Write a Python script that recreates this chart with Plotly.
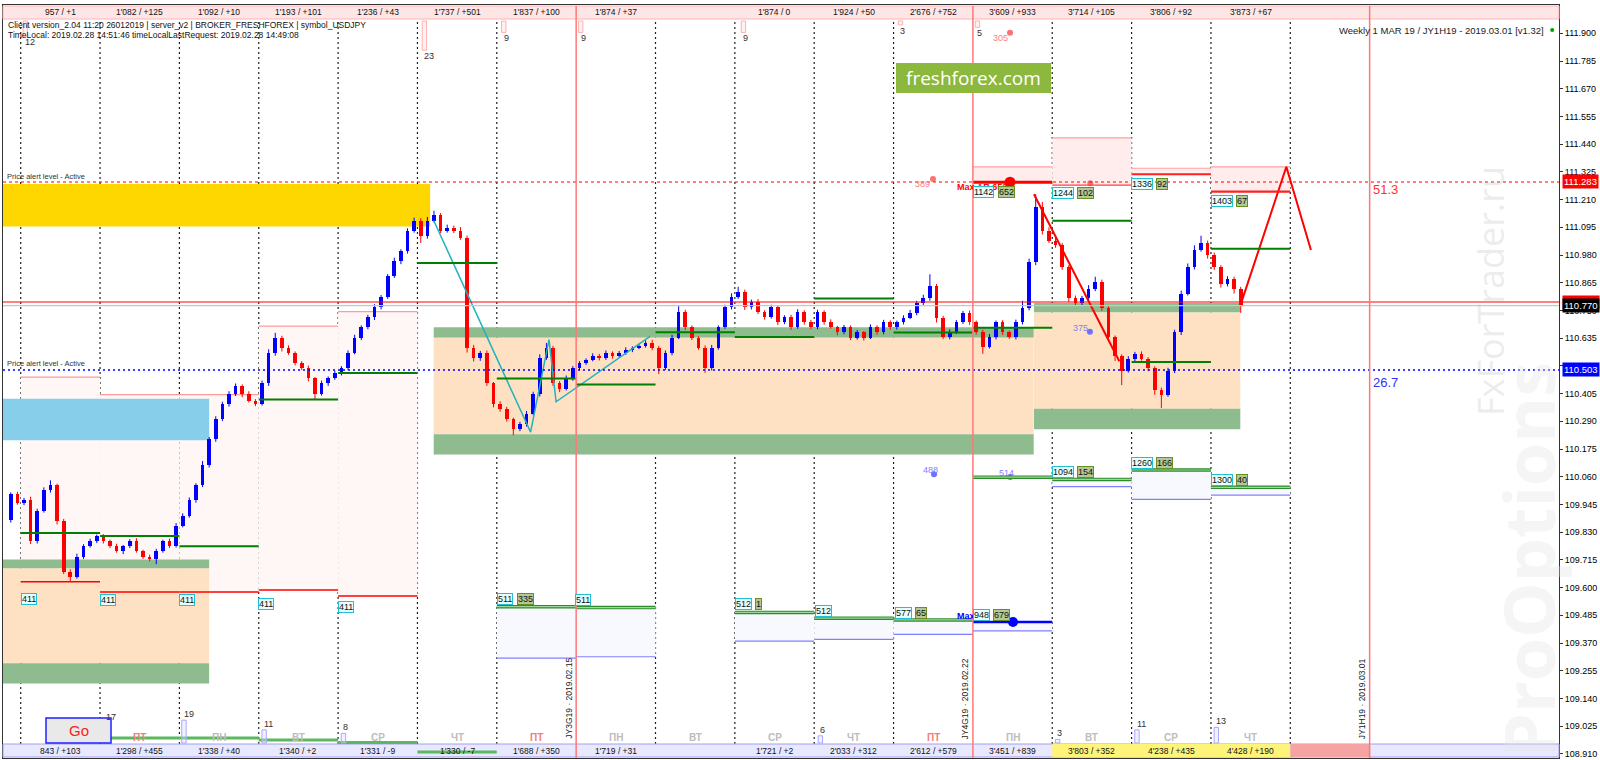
import plotly.graph_objects as go

# ======================= DATA =======================
# 2-hour candles, x in "day" units (day 0 = Thu 2019.02.07 column)
candle_start = -2 / 12
candle_step = 1 / 12
first_open = 109.880
closes = [
    109.990, 109.950,
    109.962, 109.793, 109.919, 110.004, 110.025, 109.877, 109.666, 109.645, 109.729, 109.772, 109.793, 109.814,
    109.793, 109.772, 109.751, 109.772, 109.793, 109.751, 109.729, 109.717, 109.751, 109.793, 109.772, 109.856,
    109.898, 109.962, 110.025, 110.110, 110.215, 110.299, 110.363, 110.405, 110.435, 110.405, 110.376, 110.363,
    110.447, 110.574, 110.637, 110.595, 110.574, 110.532, 110.511, 110.468, 110.405, 110.447, 110.468, 110.490,
    110.511, 110.574, 110.637, 110.680, 110.722, 110.764, 110.806, 110.891, 110.954, 110.996, 111.081, 111.123,
    111.060, 111.123, 111.144, 111.081, 111.094, 111.081, 111.051, 110.595, 110.553, 110.574, 110.447, 110.363,
    110.342, 110.299, 110.257, 110.278, 110.321, 110.405, 110.553, 110.595, 110.447, 110.426, 110.468, 110.511,
    110.532, 110.545, 110.562, 110.553, 110.574, 110.562, 110.574, 110.587, 110.595, 110.604, 110.616, 110.595,
    110.511, 110.574, 110.637, 110.743, 110.680, 110.637, 110.595, 110.511, 110.595, 110.680, 110.764, 110.806,
    110.828, 110.764, 110.785, 110.743, 110.722, 110.764, 110.701, 110.722, 110.680, 110.743, 110.701, 110.680,
    110.743, 110.701, 110.680, 110.659, 110.680, 110.637, 110.659, 110.637, 110.680, 110.659, 110.701, 110.680,
    110.700, 110.720, 110.740, 110.780, 110.800, 110.850, 110.720, 110.640, 110.660, 110.700, 110.740, 110.700,
    110.660, 110.600, 110.640, 110.700, 110.660, 110.640, 110.700, 110.760, 110.950, 111.180, 111.080, 111.040,
    111.020, 110.930, 110.800, 110.780, 110.800, 110.840, 110.870, 110.760, 110.640, 110.560, 110.500, 110.550,
    110.570, 110.550, 110.510, 110.420, 110.400, 110.500, 110.660, 110.820, 110.930, 111.000, 111.030, 110.980,
    110.930, 110.860, 110.880, 110.840, 110.770,
]
# wick lengths, in 0.001 price units
wick_up = [
    5, 8,
    10, 15, 8, 12, 20, 6, 8, 10, 12, 8, 10, 6,
    8, 6, 10, 5, 8, 12, 6, 8, 10, 6, 10, 12,
    10, 12, 8, 15, 10, 12, 8, 10, 12, 8, 10, 6,
    12, 15, 20, 8, 10, 6, 8, 10, 6, 12, 8, 10,
    8, 10, 12, 8, 10, 12, 8, 10, 15, 8, 10, 12,
    10, 15, 20, 10, 12, 8, 15, 10, 12, 8, 10, 6,
    10, 8, 6, 10, 12, 8, 15, 20, 8, 10, 12, 8,
    8, 6, 10, 8, 10, 6, 8, 10, 6, 8, 10, 12,
    8, 10, 12, 25, 10, 8, 6, 10, 12, 8, 10, 15,
    20, 8, 10, 12, 8, 10, 6, 8, 10, 12, 8, 10,
    10, 8, 12, 6, 10, 8, 10, 6, 12, 8, 10, 8,
    8, 10, 12, 10, 15, 50, 10, 8, 12, 10, 8, 10,
    8, 10, 12, 8, 10, 6, 12, 30, 15, 52, 20, 15,
    15, 10, 8, 12, 10, 15, 20, 8, 10, 6, 8, 10,
    8, 10, 6, 8, 10, 12, 10, 12, 15, 20, 30, 10,
    10, 8, 12, 10, 8,
]
wick_dn = [
    10, 6,
    8, 12, 10, 8, 10, 15, 10, 18, 8, 10, 6, 8,
    10, 8, 6, 12, 8, 6, 10, 8, 20, 6, 8, 6,
    6, 8, 10, 8, 12, 10, 8, 12, 10, 15, 8, 10,
    8, 10, 12, 15, 8, 10, 8, 12, 25, 8, 10, 6,
    10, 8, 6, 10, 8, 12, 10, 8, 6, 12, 10, 8,
    30, 12, 8, 10, 8, 10, 8, 20, 15, 12, 10, 15,
    12, 10, 25, 8, 10, 6, 12, 8, 10, 15, 8, 10,
    10, 8, 6, 10, 8, 12, 6, 8, 10, 6, 8, 10,
    25, 8, 10, 6, 12, 10, 8, 20, 10, 8, 6, 10,
    8, 12, 10, 8, 10, 6, 12, 8, 10, 6, 10, 8,
    8, 10, 6, 12, 8, 10, 8, 12, 6, 10, 8, 10,
    10, 8, 6, 10, 12, 10, 20, 8, 10, 8, 6, 10,
    10, 30, 8, 10, 12, 8, 10, 8, 10, 12, 15, 10,
    10, 12, 15, 8, 10, 8, 10, 12, 15, 20, 60, 8,
    10, 8, 12, 20, 55, 8, 10, 12, 8, 10, 6, 15,
    12, 15, 10, 20, 30,
]

# price axis
y_ticks = [round(108.910 + 0.115 * k, 3) for k in range(27)]
alert_high = 111.283
alert_low = 110.503
bid_price = 110.770
ask_line = 110.785

# zones: (day_from, day_to, price_low, price_high)
yellow_zone = (-0.3, 5.16, 111.098, 111.275)
blue_zone = (-0.3, 2.375, 110.211, 110.384)
# (day_from, day_to, green_top_hi, peach_hi, peach_lo, green_bottom_lo)
peach_zones = [
    (-0.3, 2.375, 109.717, 109.679, 109.286, 109.202),
    (5.205, 12.766, 110.680, 110.637, 110.236, 110.152),
    (12.77, 15.37, 110.781, 110.741, 110.342, 110.257),
]
# pale pink daily boxes: (day, top_line, bottom_line)
pink_boxes_low = [(0, 110.473, 109.624), (1, 110.401, 109.582), (2, 110.401, 109.582),
                  (3, 110.685, 109.590), (4, 110.745, 109.565)]
pink_boxes_high = [(12, 111.346, 111.282), (13, 111.466, 111.270), (14, 111.340, 111.315), (15, 111.346, 111.243)]
# daily green levels
green_days = [0, 1, 2, 3, 4, 5, 6, 7, 8, 9, 10, 11, 12, 13, 14, 15]
green_levels = [109.827, 109.814, 109.772, 110.380, 110.490, 110.947, 110.468, 110.443,
                110.660, 110.640, 110.800, 110.658, 110.678, 111.122, 110.536, 111.006]
# lavender boxes: (day, green_top, blue_bottom)
lav_boxes = [(6, 109.521, 109.307), (7, 109.517, 109.313), (9, 109.497, 109.378),
             (10, 109.473, 109.385), (11, 109.466, 109.406),
             (12, 110.058, None), (13, 110.049, 110.019), (14, 110.088, 109.966), (15, 110.016, 109.984)]
max_blue_level = (12, 109.457, 109.420)
max_red_level = 111.282
# tag labels: (day, price, cyan_text, olive_text)
tags = [
    (0.0, 109.553, "411", None), (1.0, 109.549, "411", None), (1.99, 109.549, "411", None),
    (2.99, 109.532, "411", None), (4.0, 109.520, "411", None),
    (6.0, 109.553, "511", "335"), (6.99, 109.549, "511", None), (9.0, 109.532, "512", "1"),
    (10.01, 109.503, "512", None), (11.02, 109.495, "577", "65"), (12.0, 109.487, "948", "679"),
    (12.0, 111.241, "1142", "652"), (13.0, 111.237, "1244", "102"), (13.99, 111.275, "1336", "92"),
    (15.0, 111.204, "1403", "67"), (13.0, 110.080, "1094", "154"), (13.99, 110.117, "1260", "166"),
    (15.0, 110.046, "1300", "40"),
]
# zigzags (day, price)
cyan_zz_x = [5.205, 6.426, 6.658, 6.747, 7.931]
cyan_zz_y = [111.123, 110.245, 110.629, 110.371, 110.642]
red_zz_x = [12.77, 13.845]
red_zz_y = [111.232, 110.539]
proj_x = [15.37, 15.95, 16.26]
proj_y = [110.770, 111.346, 111.001]

top_labels = ["957 / +1", "1'082 / +125", "1'092 / +10", "1'193 / +101", "1'236 / +43", "1'737 / +501",
              "1'837 / +100", "1'874 / +37", "", "1'874 / 0", "1'924 / +50", "2'676 / +752",
              "3'609 / +933", "3'714 / +105", "3'806 / +92", "3'873 / +67"]
bottom_labels = ["843 / +103", "1'298 / +455", "1'338 / +40", "1'340 / +2", "1'331 / -9", "1'330 / -7",
                 "1'688 / +350", "1'719 / +31", "", "1'721 / +2", "2'033 / +312", "2'612 / +579",
                 "3'451 / +839", "3'803 / +352", "4'238 / +435", "4'428 / +190"]
day_names = ["", "ПТ", "ПН", "ВТ", "СР", "ЧТ", "ПТ", "ПН", "ВТ", "СР", "ЧТ", "ПТ", "ПН", "ВТ", "СР", "ЧТ"]
week_lines = [7, 12, 17]
week_texts = ["JY3G19 · 2019.02.15", "JY4G19 · 2019.02.22", "JY1H19 · 2019.03.01"]
top_counts = [(0.03, 12), (5.06, 23), (6.06, 9), (7.03, 9), (9.08, 9), (11.06, 3), (12.03, 5)]
bottom_counts = [(1.05, 17), (2.03, 19), (3.04, 11), (4.04, 8), (10.05, 6), (13.04, 3), (14.04, 11), (15.04, 13)]

# ======================= GEOMETRY =======================
W, H = 1600, 760
ML, MR, MT, MB = 3, 41, 5, 2
PW, PH = W - ML - MR, H - MT - MB
X_RANGE = [-0.2231, 19.3862]
Y_RANGE = [108.8929, 112.0174]


def py(pix):  # pixel row -> paper y
    return 1 - (pix - MT) / PH


def px(pix):  # pixel column -> paper x
    return (pix - ML) / PW


def price_at(pix):  # pixel row -> price (for frame decorations)
    return Y_RANGE[1] - (pix - MT) / PH * (Y_RANGE[1] - Y_RANGE[0])


FONT = "Liberation Sans"
fig = go.Figure()
shapes = []
ann = []


def hline(x0, x1, y, color, width=1, dash="solid", layer="above"):
    shapes.append(dict(type="line", xref="x", yref="y", x0=x0, x1=x1, y0=y, y1=y,
                       line=dict(color=color, width=width, dash=dash), layer=layer))


def rect(x0, x1, y0, y1, fill, line_color=None, lw=0, layer="below", xref="x", yref="y"):
    shapes.append(dict(type="rect", xref=xref, yref=yref, x0=x0, x1=x1, y0=y0, y1=y1,
                       fillcolor=fill, line=dict(color=line_color or fill, width=lw), layer=layer))


# ---- background zones ----
for d, top, bot in pink_boxes_low:
    rect(d, d + 1, bot, top, "#FFF6F6")
for d, top, bot in pink_boxes_high:
    rect(d, d + 1, bot, top, "#FFEDED")
rect(yellow_zone[0], yellow_zone[1], yellow_zone[2], yellow_zone[3], "#FFD700")
rect(blue_zone[0], blue_zone[1], blue_zone[2], blue_zone[3], "#87CEEB")
for x0, x1, gt, ph, pl, gb in peach_zones:
    rect(x0, x1, ph, gt, "#8FBC8F")
    rect(x0, x1, pl, ph, "#FDE1C2")
    rect(x0, x1, gb, pl, "#8FBC8F")
for d, gtop, bbot in lav_boxes:
    if bbot is not None:
        rect(d, d + 1, bbot, gtop, "#F8F8FF")
rect(max_blue_level[0], max_blue_level[0] + 1, max_blue_level[2], max_blue_level[1], "#F8F8FF")

# ---- day separators ----
for d in range(0, 17):
    if d in week_lines:
        continue
    shapes.append(dict(type="line", xref="x", yref="paper", x0=d, x1=d, y0=py(744), y1=py(19),
                       line=dict(color="#202020", width=1.2, dash="2px,3px"), layer="below"))

# ---- level lines of the boxes ----
for d, top, bot in pink_boxes_low:
    hline(d, d + 1, top, "#FF9A9A", 1.2, layer="below")
    hline(d, d + 1, bot, "#FF0000", 1.6, layer="below")
for d, top, bot in pink_boxes_high:
    hline(d, d + 1, top, "#FFA0A0", 1.2, layer="below")
hline(13, 14, 111.270, "#FF4040", 1.2)
hline(14, 15, 111.315, "#FF2020", 2)
hline(15, 16, 111.243, "#FF2020", 2.2)
hline(12, 13, max_red_level, "#FF0000", 3)
for d, lvl in zip(green_days, green_levels):
    hline(d, d + 1, lvl, "#007F00", 2)
for d, gtop, bbot in lav_boxes:
    hline(d, d + 1, gtop, "#2E8B2E", 3.5)
    hline(d, d + 1, gtop, "#9AD89A", 1.2)
    if bbot is not None:
        hline(d, d + 1, bbot, "#8080FF", 1.2)
hline(12, 13, max_blue_level[1], "#0000FF", 2.5)
hline(12, 13, max_blue_level[2], "#8080FF", 1.2)

# ---- full-width levels ----
hline(X_RANGE[0], X_RANGE[1], ask_line, "#FF0000", 1.2)
hline(X_RANGE[0], X_RANGE[1], bid_price, "#C8C8C8", 1.2)
hline(X_RANGE[0], X_RANGE[1], alert_high, "#FF0000", 1.2, "3px,3px")
hline(X_RANGE[0], X_RANGE[1], alert_low, "#0000FF", 1.6, "2px,3px")

# ---- candles ----
opens = [first_open] + closes[:-1]
xs = [candle_start + (i + 0.5) * candle_step for i in range(len(closes))]
highs = [max(o, c) + u / 1000 for o, c, u in zip(opens, closes, wick_up)]
lows = [min(o, c) - w / 1000 for o, c, w in zip(opens, closes, wick_dn)]
up = [c >= o for o, c in zip(opens, closes)]
for flag, col in ((True, "#0000FF"), (False, "#FF0000")):
    wx, wy = [], []
    for x, h, l, u in zip(xs, highs, lows, up):
        if u == flag:
            wx += [x, x, None]
            wy += [l, h, None]
    fig.add_trace(go.Scatter(x=wx, y=wy, mode="lines", line=dict(color=col, width=1), hoverinfo="skip"))
fig.add_trace(go.Bar(
    x=xs, base=[min(o, c) for o, c in zip(opens, closes)],
    y=[max(abs(c - o), 0.004) for o, c in zip(opens, closes)],
    width=candle_step * 0.55,
    marker=dict(color=["#0000FF" if u else "#FF0000" for u in up], line=dict(width=0)),
    hoverinfo="skip"))

# ---- zigzags ----
fig.add_trace(go.Scatter(x=cyan_zz_x, y=cyan_zz_y, mode="lines", line=dict(color="#20B2C0", width=1.5)))
fig.add_trace(go.Scatter(x=red_zz_x, y=red_zz_y, mode="lines", line=dict(color="#FF0000", width=2)))
fig.add_trace(go.Scatter(x=proj_x, y=proj_y, mode="lines", line=dict(color="#FF0000", width=2)))

# ---- dots ----
fig.add_trace(go.Scatter(x=[12.468], y=[max_red_level], mode="markers",
                         marker=dict(color="#FF0000", size=11)))
fig.add_trace(go.Scatter(x=[12.505], y=[max_blue_level[1]], mode="markers",
                         marker=dict(color="#0000FF", size=10)))
fig.add_trace(go.Scatter(x=[11.497, 12.468, 13.48], y=[111.295, 111.902, 111.278], mode="markers",
                         marker=dict(color="#FF7070", size=6)))
fig.add_trace(go.Scatter(x=[11.51, 12.47, 13.475], y=[110.070, 110.059, 110.662], mode="markers",
                         marker=dict(color="#7070FF", size=6)))

# ---- top / bottom bars ----
rect(0, 1, py(19), py(6), "#FFE6E6", "#FFB4B4", 1, "above", "paper", "paper")
rect(0, 1, py(757), py(744), "#E8E8FF", "#A0A0F0", 1, "above", "paper", "paper")
shapes.append(dict(type="rect", xref="x", yref="paper", x0=13, x1=16, y0=py(757), y1=py(744),
                   fillcolor="#FFF47A", line=dict(width=0), layer="above"))
shapes.append(dict(type="rect", xref="x", yref="paper", x0=16, x1=17, y0=py(757), y1=py(744),
                   fillcolor="#F5A3A3", line=dict(width=0), layer="above"))
# green min lines near the bottom
for x0, x1, pix in ((1, 3, 738), (3, 4, 740), (4, 5, 742.4), (5, 6, 752)):
    hline(x0, x1, price_at(pix), "#5DB85D", 3)

# week (red) lines
for d in week_lines:
    shapes.append(dict(type="line", xref="x", yref="paper", x0=d, x1=d, y0=0, y1=py(6),
                       line=dict(color="#FF7878", width=1.5), layer="above"))

# count boxes
for d, n in top_counts:
    shapes.append(dict(type="rect", xref="x", yref="paper", x0=d, x1=d + 0.055, y0=py(21 + 1.27 * n),
                       y1=py(21), fillcolor="rgba(255,220,220,0.4)", line=dict(color="#FFB0B0", width=1)))
    ann.append(dict(x=d, y=py(21 + 1.27 * n + 6), xref="x", yref="paper", text=str(n), showarrow=False,
                    xanchor="left", font=dict(family=FONT, size=9, color="#303030")))
for d, n in bottom_counts:
    shapes.append(dict(type="rect", xref="x", yref="paper", x0=d, x1=d + 0.055, y0=py(743),
                       y1=py(743 - 1.2 * n), fillcolor="rgba(220,220,255,0.4)",
                       line=dict(color="#A8A8FF", width=1)))
    ann.append(dict(x=d, y=py(743 - 1.2 * n - 6), xref="x", yref="paper", text=str(n), showarrow=False,
                    xanchor="left", font=dict(family=FONT, size=9, color="#303030")))

# small arrow icons
fig.add_trace(go.Scatter(x=[0.07, 6.07, 7.06, 9.06, 12.05], y=[price_at(16)] * 5, mode="markers",
                         marker=dict(symbol="triangle-up", size=7, color="#E8913A")))
fig.add_trace(go.Scatter(x=[11.09], y=[price_at(16)], mode="markers",
                         marker=dict(symbol="triangle-up", size=7, color="#909090")))
fig.add_trace(go.Scatter(x=[3.05, 4.06, 5.07, 5.07], y=[price_at(10), price_at(10), price_at(9), price_at(16)],
                         mode="markers", marker=dict(symbol="triangle-down", size=7, color="#E02020")))
fig.add_trace(go.Scatter(x=[0.06, 1.06, 2.05, 6.07, 10.08, 13.05, 14.06], y=[price_at(755)] * 7, mode="markers",
                         marker=dict(symbol="triangle-up", size=7, color="#1010D0")))
fig.add_trace(go.Scatter(x=[1.06, 2.05, 3.05, 4.06, 10.08, 14.06, 15.06], y=[price_at(748.5)] * 7, mode="markers",
                         marker=dict(symbol="triangle-up", size=7, color="#E8913A")))

# ---- texts ----
for d, t in enumerate(top_labels):
    if t:
        ann.append(dict(x=d + 0.5, y=py(12.5), xref="x", yref="paper", text=t, showarrow=False,
                        font=dict(family=FONT, size=8.5, color="#111")))
for d, t in enumerate(bottom_labels):
    if t:
        ann.append(dict(x=d + 0.5, y=py(751), xref="x", yref="paper", text=t, showarrow=False,
                        font=dict(family=FONT, size=8.5, color="#111")))
for d, t in enumerate(day_names):
    if t:
        ann.append(dict(x=d + 0.5, y=py(737), xref="x", yref="paper", text="<b>" + t + "</b>",
                        showarrow=False,
                        font=dict(family=FONT, size=10, color="#F08080" if t == "ПТ" else "#BDBDBD")))
for d, t in zip(week_lines, week_texts):
    ann.append(dict(x=d, y=py(741), xref="x", yref="paper", text=t, showarrow=False, textangle=-90,
                    xanchor="right", yanchor="bottom", xshift=-1,
                    font=dict(family=FONT, size=8.5, color="#222")))

ann.append(dict(x=px(6), y=py(25), xref="paper", yref="paper", xanchor="left", showarrow=False,
                text="Client version_2.04 11:20 26012019 | server_v2 | BROKER_FRESHFOREX | symbol_USDJPY",
                font=dict(family=FONT, size=8.5, color="#111")))
ann.append(dict(x=px(6), y=py(35), xref="paper", yref="paper", xanchor="left", showarrow=False,
                text="TimeLocal: 2019.02.28 14:51:46 timeLocalLastRequest: 2019.02.28 14:49:08",
                font=dict(family=FONT, size=8.5, color="#111")))
ann.append(dict(x=px(1546), y=py(30.5), xref="paper", yref="paper", xanchor="right", showarrow=False,
                text="Weekly 1 MAR 19 / JY1H19 - 2019.03.01 [v1.32]",
                font=dict(family=FONT, size=9.5, color="#222")))
fig.add_trace(go.Scatter(x=[19.3], y=[price_at(30)], mode="markers", marker=dict(color="#00A000", size=4)))

for pix in (176.5, 363):
    ann.append(dict(x=px(5), y=py(pix), xref="paper", yref="paper", xanchor="left", showarrow=False,
                    text="Price alert level - Active", font=dict(family=FONT, size=7.5, color="#333")))
ann.append(dict(x=17.0, y=alert_high - 0.03, xref="x", yref="y", xanchor="left", showarrow=False, xshift=1,
                text="51.3", font=dict(family=FONT, size=13, color="#FF3030")))
ann.append(dict(x=17.0, y=alert_low - 0.05, xref="x", yref="y", xanchor="left", showarrow=False, xshift=1,
                text="26.7", font=dict(family=FONT, size=13, color="#3030FF")))

# freshforex badge
shapes.append(dict(type="rect", xref="paper", yref="paper", x0=px(896), x1=px(1051), y0=py(93), y1=py(63),
                   fillcolor="#8DB83E", line=dict(width=0), layer="above"))
ann.append(dict(x=px(973), y=py(78), xref="paper", yref="paper", text="freshforex.com", showarrow=False,
                font=dict(family="Open Sans", size=19, color="white")))

# Go button
shapes.append(dict(type="rect", xref="paper", yref="paper", x0=px(46), x1=px(111), y0=py(743), y1=py(718),
                   fillcolor="#E9E9E9", line=dict(color="#2020FF", width=1.5), layer="above"))
ann.append(dict(x=px(78.5), y=py(730), xref="paper", yref="paper", text="Go", showarrow=False,
                font=dict(family=FONT, size=15, color="#FF2020")))

# small numbers
for d, p, t, c in ((11.245, 111.273, "389", "#FF8080"), (12.23, 111.881, "305", "#FF8080"),
                   (13.24, 110.678, "375", "#8080FF"), (11.345, 110.086, "488", "#8080FF"),
                   (12.30, 110.076, "514", "#8080FF")):
    ann.append(dict(x=d, y=p, xref="x", yref="y", text=t, showarrow=False, xanchor="left",
                    font=dict(family=FONT, size=9, color=c)))
ann.append(dict(x=11.774, y=111.264, xref="x", yref="y", text="<b>Max AB 652</b>", showarrow=False,
                xanchor="left", font=dict(family=FONT, size=9, color="#FF0000")))
ann.append(dict(x=11.774, y=109.482, xref="x", yref="y", text="<b>Max</b>", showarrow=False,
                xanchor="left", font=dict(family=FONT, size=9, color="#0000FF")))

# tags
for d, p, t1, t2 in tags:
    ann.append(dict(x=d, y=p, xref="x", yref="y", text=t1, showarrow=False, xanchor="left",
                    bgcolor="#E8FFFF", bordercolor="#20C0D0", borderwidth=1, borderpad=0,
                    font=dict(family=FONT, size=9, color="#111")))
    if t2:
        ann.append(dict(x=d, y=p, xref="x", yref="y", text=t2, showarrow=False, xanchor="left",
                        xshift=len(t1) * 5 + 5, bgcolor="#B4C896", bordercolor="#6B8E23", borderwidth=1,
                        borderpad=0, font=dict(family=FONT, size=9, color="#111")))

# watermarks
ann.append(dict(x=px(1490), y=py(291), xref="paper", yref="paper", text="FxForTrader.ru", showarrow=False,
                textangle=-90, font=dict(family="Open Sans", size=36, color="rgba(190,190,190,0.28)")))
ann.append(dict(x=px(1528), y=py(560), xref="paper", yref="paper", text="<b>ProOptions</b>", showarrow=False,
                textangle=-90, font=dict(family="Open Sans", size=70, color="rgba(225,225,225,0.35)")))

# price-axis labels
for p, bg, t in ((alert_high, "#FF0000", "111.283"), (ask_line, "#FF0000", "110.785"),
                 (bid_price, "#000000", "110.770"), (alert_low, "#0000FF", "110.503")):
    ann.append(dict(x=1, y=p, xref="paper", yref="y", text=t, showarrow=False, xanchor="left", xshift=3,
                    bgcolor=bg, borderpad=1, font=dict(family=FONT, size=9.5, color="white")))

for a in ann:
    a.setdefault("xanchor", "center")
    a.setdefault("yanchor", "middle")

fig.update_layout(
    width=W, height=H, margin=dict(l=ML, r=MR, t=MT, b=MB), paper_bgcolor="white", plot_bgcolor="white",
    showlegend=False, bargap=0, shapes=shapes, annotations=ann,
    xaxis=dict(range=X_RANGE, showgrid=False, zeroline=False, showticklabels=False, showline=True,
               linecolor="#333", mirror=True, fixedrange=True),
    yaxis=dict(range=Y_RANGE, side="right", tickvals=y_ticks, ticktext=[f"{v:.3f}" for v in y_ticks],
               ticks="outside", ticklen=3, tickcolor="#333", showgrid=False, zeroline=False, showline=True,
               linecolor="#333", mirror=True, tickfont=dict(family=FONT, size=9, color="black")),
)
fig.write_html("out.html", config={"displayModeBar": False},
               post_script="document.body.style.margin='0';document.body.style.overflow='hidden';")
